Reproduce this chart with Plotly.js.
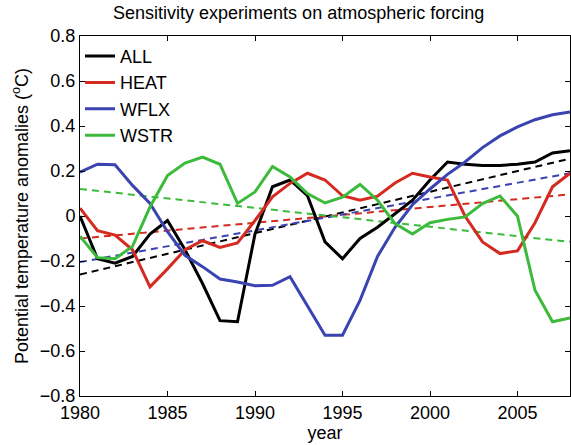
<!DOCTYPE html>
<html>
<head>
<meta charset="utf-8">
<script src="https://cdn.plot.ly/plotly-3.0.1.min.js"></script>
<style>
html,body{margin:0;padding:0;background:#fff;}
#chart{width:571px;height:445px;}
</style>
</head>
<body>
<div id="chart"></div>
<script>
const years = [1980,1981,1982,1983,1984,1985,1986,1987,1988,1989,1990,1991,1992,1993,1994,1995,1996,1997,1998,1999,2000,2001,2002,2003,2004,2005,2006,2007,2008];
const allSeries  = [0.00,-0.19,-0.21,-0.18,-0.08,-0.02,-0.15,-0.30,-0.465,-0.47,-0.08,0.13,0.16,0.09,-0.115,-0.19,-0.10,-0.05,0.01,0.07,0.16,0.24,0.23,0.225,0.225,0.23,0.24,0.28,0.29];
const heatSeries = [0.035,-0.065,-0.085,-0.15,-0.315,-0.235,-0.15,-0.11,-0.14,-0.12,-0.02,0.085,0.145,0.19,0.16,0.09,0.07,0.088,0.147,0.19,0.173,0.16,0.00,-0.115,-0.167,-0.155,-0.03,0.13,0.19];
const wflxSeries = [0.195,0.23,0.228,0.136,0.056,-0.07,-0.175,-0.225,-0.28,-0.293,-0.31,-0.308,-0.27,-0.40,-0.53,-0.53,-0.375,-0.18,-0.05,0.05,0.12,0.185,0.24,0.304,0.356,0.396,0.428,0.45,0.462];
const wstrSeries = [-0.09,-0.185,-0.19,-0.135,0.04,0.18,0.235,0.262,0.23,0.056,0.107,0.22,0.173,0.10,0.058,0.084,0.14,0.07,-0.034,-0.08,-0.03,-0.015,-0.004,0.055,0.089,-0.001,-0.33,-0.47,-0.453];
const trendYears = [1980, 2008];
const allTrend  = [-0.26, 0.255];
const heatTrend = [-0.10, 0.096];
const wflxTrend = [-0.205, 0.19];
const wstrTrend = [0.12, -0.115];
const names = ['ALL','HEAT','WFLX','WSTR'];
const colors = ['#000000','#d42a20','#3a44b0','#3cba3c'];
const xTicks = [1980,1985,1990,1995,2000,2005];
const yTicks = [-0.8,-0.6,-0.4,-0.2,0,0.2,0.4,0.6,0.8];
const yTickText = ['\u22120.8','\u22120.6','\u22120.4','\u22120.2','0','0.2','0.4','0.6','0.8'];

const series = [allSeries, heatSeries, wflxSeries, wstrSeries];
const trends = [allTrend, heatTrend, wflxTrend, wstrTrend];
const traces = [];
for (let i = 0; i < 4; i++) {
  traces.push({x: trendYears, y: trends[i], mode: 'lines', showlegend: false, hoverinfo: 'skip',
    line: {color: colors[i], width: 2, dash: '7px,5px'}});
}
for (let i = 0; i < 4; i++) {
  traces.push({x: years, y: series[i], mode: 'lines', name: names[i],
    line: {color: colors[i], width: 3}});
}

const font = {family: 'Liberation Sans, Arial, sans-serif', size: 18, color: '#000'};
const layout = {
  width: 571, height: 445,
  margin: {l: 80, r: 1, t: 36, b: 49},
  paper_bgcolor: '#fff', plot_bgcolor: '#fff',
  font: font,
  title: {text: 'Sensitivity experiments on atmospheric forcing', font: {family: font.family, size: 18, color: '#000'}, x: 0.523, xanchor: 'center', y: 0.985, yanchor: 'top'},
  xaxis: {range: [1980, 2008], tickvals: xTicks, ticktext: xTicks.map(String), ticks: 'inside', ticklen: 5, tickcolor: '#000',
    showline: true, linecolor: '#000', linewidth: 1, mirror: 'ticks', showgrid: false, zeroline: false,
    tickfont: font, title: {text: 'year', font: font, standoff: 0}},
  yaxis: {range: [-0.8, 0.8], tickvals: yTicks, ticktext: yTickText, ticks: 'inside', ticklen: 5, tickcolor: '#000',
    showline: true, linecolor: '#000', linewidth: 1, mirror: 'ticks', showgrid: false, zeroline: false,
    tickfont: font, title: {text: 'Potential temperature anomalies (<sup>o</sup>C)', font: font, standoff: 6}},
  legend: {x: 0.0, y: 0.995, xanchor: 'left', yanchor: 'top', bgcolor: 'rgba(0,0,0,0)', borderwidth: 0,
    font: font, tracegroupgap: 0, itemwidth: 30},
  showlegend: true
};
Plotly.newPlot('chart', traces, layout, {displayModeBar: false, staticPlot: true});
</script>
</body>
</html>
